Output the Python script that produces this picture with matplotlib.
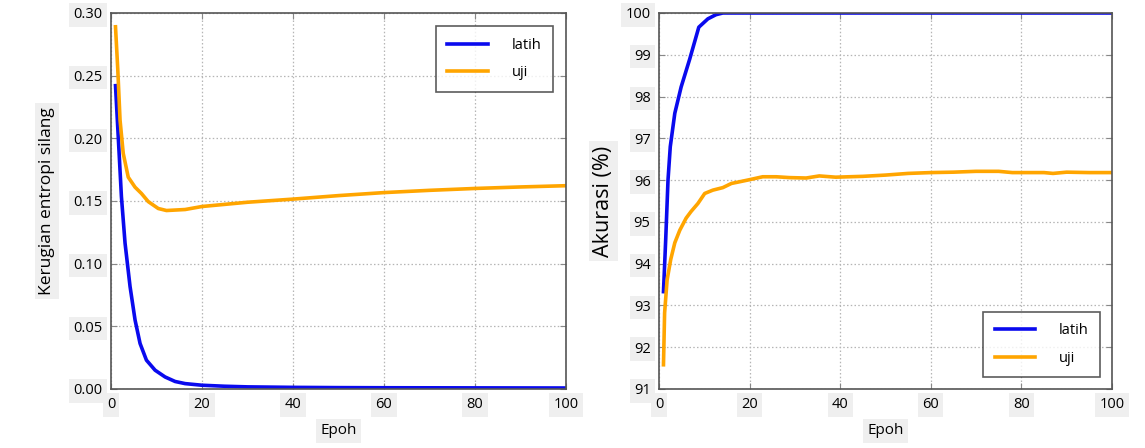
import matplotlib
matplotlib.use("Agg")
import matplotlib.pyplot as plt

plt.rcParams['font.family'] = ['Open Sans', 'DejaVu Sans']

# loss (kerugian entropi silang) per epoh
loss_epoch_latih = [1, 1.6, 2.3, 3.1, 4.2, 5.3, 6.4, 7.8, 9.7, 11.9, 14.1, 16.3, 20, 25, 30, 40,
                    50, 60, 80, 100]
loss_latih = [0.242, 0.2015, 0.1535, 0.1163, 0.0817, 0.055, 0.0363, 0.023, 0.015, 0.0096, 0.006,
              0.0043, 0.003, 0.0022, 0.0017, 0.0013, 0.0011, 0.001, 0.0009, 0.0008]
loss_epoch_uji = [1, 1.5, 2, 2.7, 3.8, 5.3, 6.7, 8.2, 10.4, 12.2, 16.3, 20, 30, 40, 50, 60, 70,
                  80, 90, 100]
loss_uji = [0.289, 0.255, 0.2145, 0.188, 0.169, 0.161, 0.156, 0.1495, 0.144, 0.1424, 0.1432, 0.1456,
            0.149, 0.1515, 0.1543, 0.1567, 0.1585, 0.160, 0.1612, 0.1622]

# akurasi per epoh
acc_epoch_latih = [1, 1.5, 2, 2.5, 3.5, 4.9, 6.8, 8.8, 10.8, 12.6, 14.1, 20, 40, 60, 80, 100]
acc_latih = [93.33, 94.6, 96.0, 96.8, 97.6, 98.23, 98.9, 99.66, 99.86, 99.96, 100, 100, 100, 100,
             100, 100]
acc_epoch_uji = [1, 1.25, 1.8, 2.6, 3.5, 4.6, 6.0, 7.1, 8.6, 10.1, 11.9, 14.1, 16.0, 17.8, 20, 22.9,
                 25.9, 28.8, 32.5, 35.4, 39, 45, 50, 55, 60, 65, 70, 75, 78, 85, 87, 90, 95, 100]
acc_uji = [91.58, 92.82, 93.61, 94.1, 94.5, 94.8, 95.09, 95.25, 95.44, 95.68, 95.76, 95.82, 95.92,
           95.96, 96.01, 96.08, 96.08, 96.06, 96.05, 96.1, 96.07, 96.09, 96.12, 96.16, 96.18, 96.19,
           96.21, 96.21, 96.18, 96.18, 96.16, 96.19, 96.18, 96.18]

loss_yticks = [0.00, 0.05, 0.10, 0.15, 0.20, 0.25, 0.30]
acc_yticks = [91, 92, 93, 94, 95, 96, 97, 98, 99, 100]
xticks = [0, 20, 40, 60, 80, 100]

BLUE = '#0a0aee'
ORANGE = '#ffa500'
BOX = dict(facecolor='#efefef', edgecolor='none', pad=3)

fig = plt.figure(figsize=(11.45, 4.48), dpi=100)
ax1 = fig.add_axes([0.0969, 0.1317, 0.3974, 0.8393])
ax2 = fig.add_axes([0.5755, 0.1317, 0.3956, 0.8393])


def style(ax):
    ax.grid(True, linestyle=(0, (1.2, 1.8)), color='#b5b5b5', linewidth=0.9)
    ax.set_axisbelow(True)
    ax.tick_params(direction='in', length=4, color='#888888', labelsize=10.5, pad=6,
                   top=True, right=True)
    for s in ax.spines.values():
        s.set_color('#555555')
        s.set_linewidth(1.2)
    ax.set_xticks(xticks)
    ax.set_xlim(0, 100)
    for lbl in ax.get_xticklabels() + ax.get_yticklabels():
        lbl.set_bbox(BOX)


def add_legend(ax, loc, pad):
    leg = ax.legend(loc=loc, fontsize=10.5, fancybox=False, edgecolor='#333333',
                    borderpad=0.8, handlelength=2.8, handletextpad=1.6, labelspacing=0.85,
                    borderaxespad=pad)
    leg.get_frame().set_linewidth(1.2)


ax1.plot(loss_epoch_latih, loss_latih, color=BLUE, lw=2.6, label='latih')
ax1.plot(loss_epoch_uji, loss_uji, color=ORANGE, lw=2.6, label='uji')
ax1.set_ylim(0, 0.30)
ax1.set_yticks(loss_yticks)
ax1.set_yticklabels([f'{v:.2f}' for v in loss_yticks])
style(ax1)
ax1.set_xlabel('Epoh', fontsize=11, labelpad=8, bbox=BOX)
ax1.set_ylabel('Kerugian entropi silang', fontsize=12.5, labelpad=13, bbox=BOX)
add_legend(ax1, 'upper right', 0.9)

ax2.plot(acc_epoch_latih, acc_latih, color=BLUE, lw=2.6, label='latih')
ax2.plot(acc_epoch_uji, acc_uji, color=ORANGE, lw=2.6, label='uji')
ax2.set_ylim(91, 100)
ax2.set_yticks(acc_yticks)
style(ax2)
ax2.set_xlabel('Epoh', fontsize=11, labelpad=8, bbox=BOX)
ax2.set_ylabel('Akurasi (%)', fontsize=15.5, labelpad=8, bbox=BOX)
add_legend(ax2, 'lower right', 0.8)

fig.savefig('out.png', dpi=100, facecolor='white')
